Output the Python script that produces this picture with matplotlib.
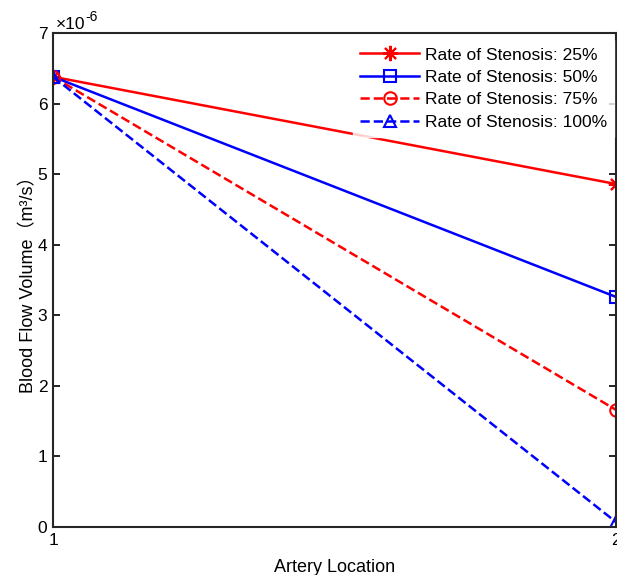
import matplotlib
matplotlib.use("Agg")
import matplotlib.pyplot as plt

plt.rcParams['font.family'] = ['Liberation Sans', 'Noto Sans CJK SC', 'DejaVu Sans']

locations = [1, 2]
labels = ['Rate of Stenosis: 25%', 'Rate of Stenosis: 50%', 'Rate of Stenosis: 75%', 'Rate of Stenosis: 100%']
s25 = [6.38e-6, 4.86e-6]
s50 = [6.38e-6, 3.26e-6]
s75 = [6.38e-6, 1.66e-6]
s100 = [6.38e-6, 0.07e-6]

fig = plt.figure(figsize=(6.17, 5.75), dpi=100)
ax = fig.add_axes([53/617, 48/575, 563/617, 494/575])

styles = [
    (s25, 'r', '-', (8, 2, 0), 11),
    (s50, 'b', '-', 's', 8),
    (s75, 'r', '--', 'o', 9),
    (s100, 'b', '--', '^', 9),
]
for (vals, c, ls, m, ms), lab in zip(styles, labels):
    ax.plot(locations, vals, color=c, linestyle=ls, marker=m, markersize=ms,
            markerfacecolor='none', markeredgecolor=c, markeredgewidth=1.5,
            linewidth=1.8, label=lab)

ax.set_xlim(1, 2)
ax.set_ylim(0, 7e-6)
ax.set_xticks([1, 2])
ax.set_yticks([i * 1e-6 for i in range(8)])
ax.set_yticklabels([str(i) for i in range(8)])
ax.tick_params(direction='in', top=True, right=True, labelsize=12.5, length=5, width=1.2, pad=4)
for sp in ax.spines.values():
    sp.set_linewidth(1.5)
    sp.set_color('#262626')

ax.text(0.005, 1.003, '×10', transform=ax.transAxes, fontsize=12.5, ha='left', va='bottom')
ax.text(0.057, 1.018, '-6', transform=ax.transAxes, fontsize=10, ha='left', va='bottom')
ax.set_xlabel('Artery Location', fontsize=13, labelpad=8)
ax.set_ylabel('Blood Flow Volume（m³/s）', fontsize=13, labelpad=0)

leg = ax.legend(loc='upper right', bbox_to_anchor=(0.997, 0.985), fontsize=12.5,
                frameon=True, fancybox=False, edgecolor='white', handlelength=3.4,
                borderaxespad=0.0, labelspacing=0.42, handletextpad=0.35)

fig.savefig('out.png', dpi=100)
